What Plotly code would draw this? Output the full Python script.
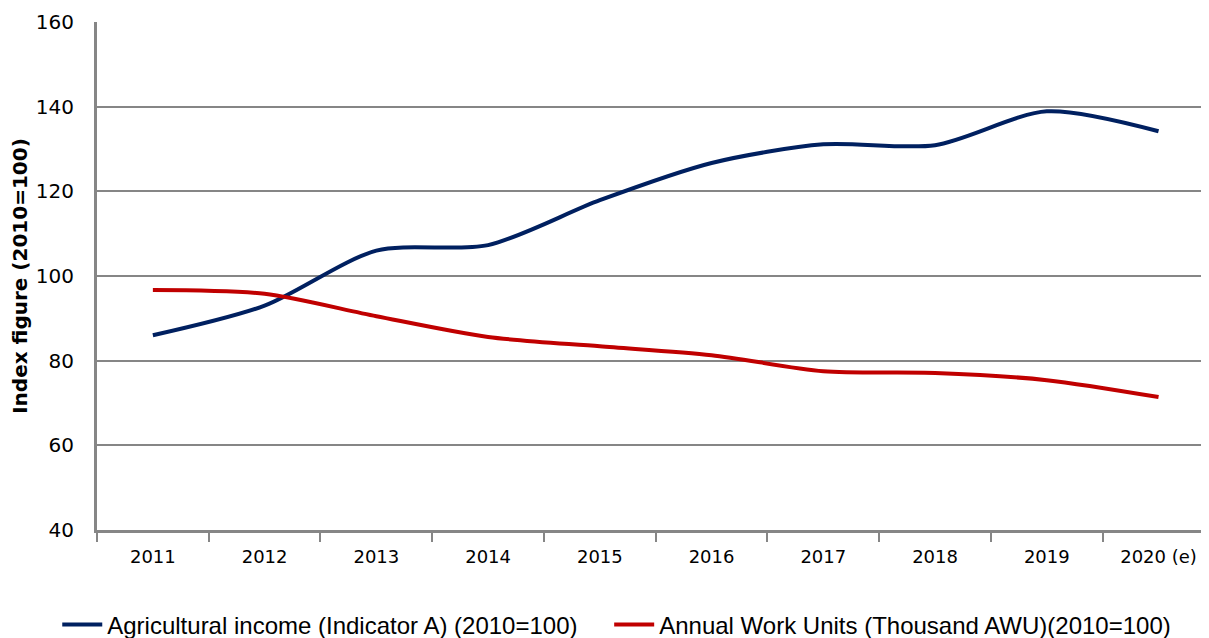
import plotly.graph_objects as go

years = ["2011", "2012", "2013", "2014", "2015", "2016", "2017", "2018", "2019", "2020 (e)"]
agri_income = [86.0, 93.0, 106.0, 107.3, 117.9, 126.7, 131.1, 130.9, 138.9, 134.2]
awu = [96.7, 95.8, 90.5, 85.6, 83.4, 81.3, 77.5, 77.1, 75.4, 71.4]

fig = go.Figure()
fig.add_trace(go.Scatter(x=years, y=agri_income, mode="lines",
                         name="Agricultural income (Indicator A) (2010=100)\u00a0\u00a0\u00a0\u00a0",
                         line=dict(color="#002060", width=4, shape="spline", smoothing=0.8)))
fig.add_trace(go.Scatter(x=years, y=awu, mode="lines",
                         name="Annual Work Units (Thousand AWU)(2010=100)",
                         line=dict(color="#C00000", width=4, shape="spline", smoothing=0.8)))

fig.update_layout(
    width=1193, height=630,
    margin=dict(l=89, r=0, t=14, b=108, autoexpand=False),
    plot_bgcolor="white", paper_bgcolor="white",
    font=dict(family="DejaVu Sans", size=20, color="#000000"),
    showlegend=True,
    legend=dict(orientation="h", x=-0.036, xanchor="left", y=-0.187, yanchor="middle",
                font=dict(family="Liberation Sans", size=24, color="#000000"),
                itemwidth=40, traceorder="normal"),
)
fig.update_xaxes(
    type="category", range=[-0.5, 9.38],
    showline=True, linecolor="#868686", linewidth=3,
    ticks="outside", tickson="boundaries", ticklen=9, tickwidth=2, tickcolor="#868686",
    showgrid=False, tickfont=dict(size=18), ticklabelstandoff=8,
)
fig.update_yaxes(
    range=[40, 160], dtick=20,
    showline=True, linecolor="#868686", linewidth=3,
    showgrid=True, gridcolor="#868686", gridwidth=1.5,
    ticks="", tickfont=dict(size=20), ticklabelstandoff=16,
    zeroline=False,
    title=dict(text="<b>Index figure (2010=100)</b>", font=dict(size=20), standoff=10),
)
fig.write_html("out.html")
